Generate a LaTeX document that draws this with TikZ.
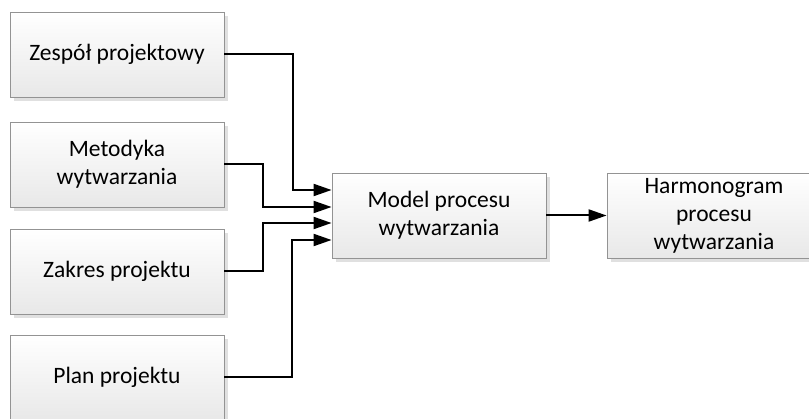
\documentclass[tikz,border=0pt]{standalone}
\usepackage{fontspec}
\setmainfont{Carlito}
\usepackage{tikz}
\usetikzlibrary{arrows.meta,shadows}

\begin{document}
\begin{tikzpicture}[x=1pt, y=-1pt,
        blok/.style = {draw = gray!85, line width = 0.8pt, top color = white, bottom color = gray!18,
            minimum width = 214pt, minimum height = 85pt, align = center, inner sep = 2pt,
            font = \fontsize{23.5}{28}\selectfont,
            drop shadow = {fill = black!12, opacity = 1, shadow xshift = 4pt, shadow yshift = -4pt}},
        strzalka/.style = {line width = 2pt, -{Triangle[length = 18pt, width = 12pt]}}]
        \useasboundingbox (0, 0) rectangle (809, 419);
        \clip (0, 0) rectangle (809, 419);
        \node (zespol) at (117, 54.5) [blok] {Zespół projektowy};
        \node (metodyka) at (117, 164.5) [blok] {Metodyka\\wytwarzania};
        \node (zakres) at (117, 271.5) [blok] {Zakres projektu};
        \node (plan) at (117, 377.5) [blok] {Plan projektu};
        \node (model) at (439, 215.5) [blok] {Model procesu\\wytwarzania};
        \node (harmonogram) at (714, 215.5) [blok] {Harmonogram\\procesu\\wytwarzania};
        \draw [strzalka] (zespol.east) -- ++(69, 0) |- ([yshift = 25.5pt] model.west);
        \draw [strzalka] (metodyka.east) -- ++(39, 0) |- ([yshift = 8.5pt] model.west);
        \draw [strzalka] (zakres.east) -- ++(39, 0) |- ([yshift = -7.5pt] model.west);
        \draw [strzalka] (plan.east) -- ++(68, 0) |- ([yshift = -24.5pt] model.west);
        \draw [strzalka] (model) -- (harmonogram);
    \end{tikzpicture}
\end{document}
